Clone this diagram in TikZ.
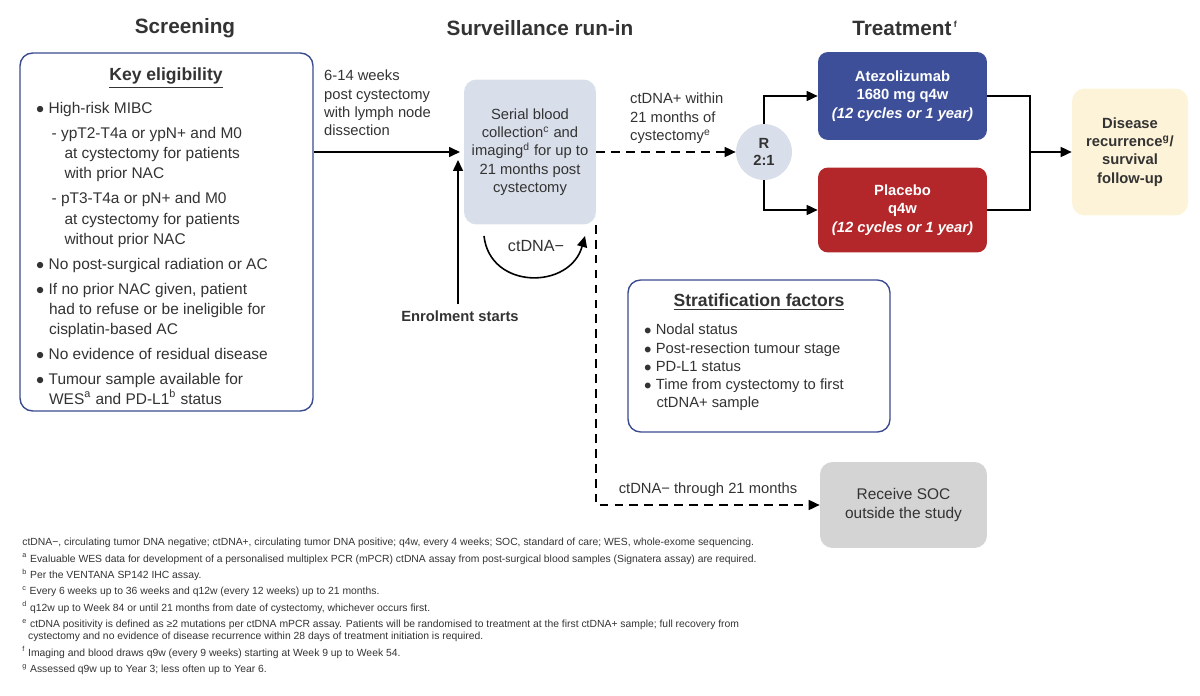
\documentclass[tikz,border=0pt]{standalone}
\usepackage{fontspec}
\setmainfont{Liberation Sans}
\usepackage{xcolor}
\usetikzlibrary{positioning,arrows.meta}
\definecolor{frameblue}{HTML}{3B4B8F}
\definecolor{atezo}{HTML}{3E4F9A}
\definecolor{placebo}{HTML}{B3272A}
\definecolor{greyblue}{HTML}{D9DFEA}
\definecolor{cream}{HTML}{FDF3D8}
\definecolor{socgrey}{HTML}{D4D4D4}
\definecolor{textgrey}{HTML}{333333}
\begin{document}
\begin{tikzpicture}[x=0.02cm,y=-0.02cm,
                heading/.style={font=\fontsize{11.8}{13}\selectfont\bfseries, text=textgrey},
                body/.style={font=\fontsize{8.4}{10.4}\selectfont, text=textgrey},
                framebox/.style={rectangle, rounded corners=2.5mm, draw=frameblue, line width=0.8pt, fill=white},
                armbox/.style={rectangle, rounded corners=2mm, text=white, align=center, font=\fontsize{8.4}{10.4}\selectfont\bfseries, minimum width=3.38cm},
                softbox/.style={rectangle, rounded corners=2.5mm, align=center, text=textgrey, font=\fontsize{8.4}{10.4}\selectfont},
                note/.style={font=\fontsize{5.9}{7}\selectfont, text=textgrey, anchor=north west, inner sep=0pt},
                arr/.style={-{Triangle[length=2.2mm,width=2mm]}, line width=0.9pt, draw=black},
            ]
            \useasboundingbox (0,0) rectangle (1200,696);

            % headings
            \node[heading] (hScreen) at (185,28) {Screening};
            \node[heading] (hSurv)   at (540,28) {Surveillance run-in};
            \node[heading] (hTreat)  at (905,28) {Treatment\textsuperscript{\,\fontsize{5}{5}\selectfont f}};

            % key eligibility
            \node[framebox, minimum width=5.86cm, minimum height=7.16cm] (elig) at (166.5,232) {};
            \node[body, font=\fontsize{10}{11}\selectfont\bfseries] (eligTitle) at (166,78) {\underline{Key eligibility}};
            \node[body, font=\fontsize{8.8}{11.6}\selectfont, anchor=north west, align=left] (eligList) at (30,96) {%
                $\bullet$ High-risk MIBC\\[2.5pt]
                \quad - ypT2-T4a or ypN+ and M0\\
                \quad\ \ \ at cystectomy for patients\\
                \quad\ \ \ with prior NAC\\[2.5pt]
                \quad - pT3-T4a or pN+ and M0\\
                \quad\ \ \ at cystectomy for patients\\
                \quad\ \ \ without prior NAC\\[2.5pt]
                $\bullet$ No post-surgical radiation or AC\\[2.5pt]
                $\bullet$ If no prior NAC given, patient\\
                \ \ \ had to refuse or be ineligible for\\
                \ \ \ cisplatin-based AC\\[2.5pt]
                $\bullet$ No evidence of residual disease\\[2.5pt]
                $\bullet$ Tumour sample available for\\
                \ \ \ WES\textsuperscript{a} and PD-L1\textsuperscript{b} status};

            % surveillance
            \node[softbox, fill=greyblue, minimum width=2.64cm, minimum height=2.9cm] (serial) at (530,152) {Serial blood\\collection\textsuperscript{c} and\\imaging\textsuperscript{d} for up to\\21 months post\\cystectomy};
            \node[body, anchor=north west, align=left] (weeks) at (318,64) {6-14 weeks\\post cystectomy\\with lymph node\\dissection};
            \coordinate (entry) at (460,152);
            \draw[arr] (elig.east |- entry) -- (entry);
            \coordinate (enrolTop) at (458,160);
            \node[body, font=\fontsize{8.4}{10}\selectfont\bfseries] (enrol) at (460,316) {Enrolment starts};
            \draw[arr] (enrol.north -| enrolTop) -- (enrolTop);
            \coordinate (loopA) at (484,236);
            \coordinate (loopB) at (585,236);
            \draw[arr] (loopA) .. controls (490,290) and (570,290) .. (loopB);
            \node[body, font=\fontsize{9.2}{11}\selectfont] (ctneg) at (536,246) {ctDNA−};

            % randomisation
            \node[circle, fill=greyblue, minimum size=1.12cm, inner sep=0pt, align=center, font=\fontsize{8.4}{10}\selectfont\bfseries, text=textgrey] (rand) at (764,152) {R\\2:1};
            \draw[arr, dash pattern=on 5pt off 3.5pt] (serial.east) -- (rand.west);
            \node[body, anchor=north west, align=left] (ctpos) at (624,87) {ctDNA+ within\\21 months of\\cystectomy\textsuperscript{e}};

            \node[armbox, fill=atezo, minimum height=1.76cm] (atezo) at (902.5,96) {Atezolizumab\\1680 mg q4w\\\textit{(12 cycles or 1 year)}};
            \node[armbox, fill=placebo, minimum height=1.7cm] (plac) at (902.5,210) {Placebo\\q4w\\\textit{(12 cycles or 1 year)}};
            \draw[arr] (rand.north) |- (atezo.west);
            \draw[arr] (rand.south) |- (plac.west);

            \node[softbox, fill=cream, minimum width=2.32cm, minimum height=2.54cm, font=\fontsize{8.4}{10.4}\selectfont\bfseries] (fup) at (1130,152) {Disease\\recurrence\textsuperscript{g}/\\survival\\follow-up};
            \coordinate (join) at (1030,152);
            \draw[line width=0.9pt] (atezo.east) -| (join) |- (plac.east);
            \draw[arr] (join) -- (fup.west);

            % stratification
            \node[framebox, minimum width=5.24cm, minimum height=3.04cm] (strat) at (759,356) {};
            \node[body, font=\fontsize{10}{11}\selectfont\bfseries] (stratTitle) at (759,302) {\underline{Stratification factors}};
            \node[body, anchor=north west, align=left] (stratList) at (638,318) {%
                $\bullet$ Nodal status\\
                $\bullet$ Post-resection tumour stage\\
                $\bullet$ PD-L1 status\\
                $\bullet$ Time from cystectomy to first\\
                \ \ \ ctDNA+ sample};

            % SOC
            \node[softbox, fill=socgrey, minimum width=3.34cm, minimum height=1.72cm, font=\fontsize{8.8}{11}\selectfont] (soc) at (903.5,505) {Receive SOC\\outside the study};
            \draw[arr, dash pattern=on 5pt off 3.5pt] (serial.south -| 596,0) |- (soc.west);
            \node[body] (ctthru) at (708,490) {ctDNA− through 21 months};

            % footnotes
            \node[note, align=left] (notes) at (22,538) {%
                ctDNA−, circulating tumor DNA negative; ctDNA+, circulating tumor DNA positive; q4w, every 4 weeks; SOC, standard of care; WES, whole-exome sequencing.\\[2.3pt]
                \textsuperscript{a} Evaluable WES data for development of a personalised multiplex PCR (mPCR) ctDNA assay from post-surgical blood samples (Signatera assay) are required.\\[2.3pt]
                \textsuperscript{b} Per the VENTANA SP142 IHC assay.\\[2.3pt]
                \textsuperscript{c} Every 6 weeks up to 36 weeks and q12w (every 12 weeks) up to 21 months.\\[2.3pt]
                \textsuperscript{d} q12w up to Week 84 or until 21 months from date of cystectomy, whichever occurs first.\\[2.3pt]
                \textsuperscript{e} ctDNA positivity is defined as ≥2 mutations per ctDNA mPCR assay. Patients will be randomised to treatment at the first ctDNA+ sample; full recovery from\\
                \ \ cystectomy and no evidence of disease recurrence within 28 days of treatment initiation is required.\\[2.3pt]
                \textsuperscript{f} Imaging and blood draws q9w (every 9 weeks) starting at Week 9 up to Week 54.\\[2.3pt]
                \textsuperscript{g} Assessed q9w up to Year 3; less often up to Year 6.};
        \end{tikzpicture}
\end{document}
